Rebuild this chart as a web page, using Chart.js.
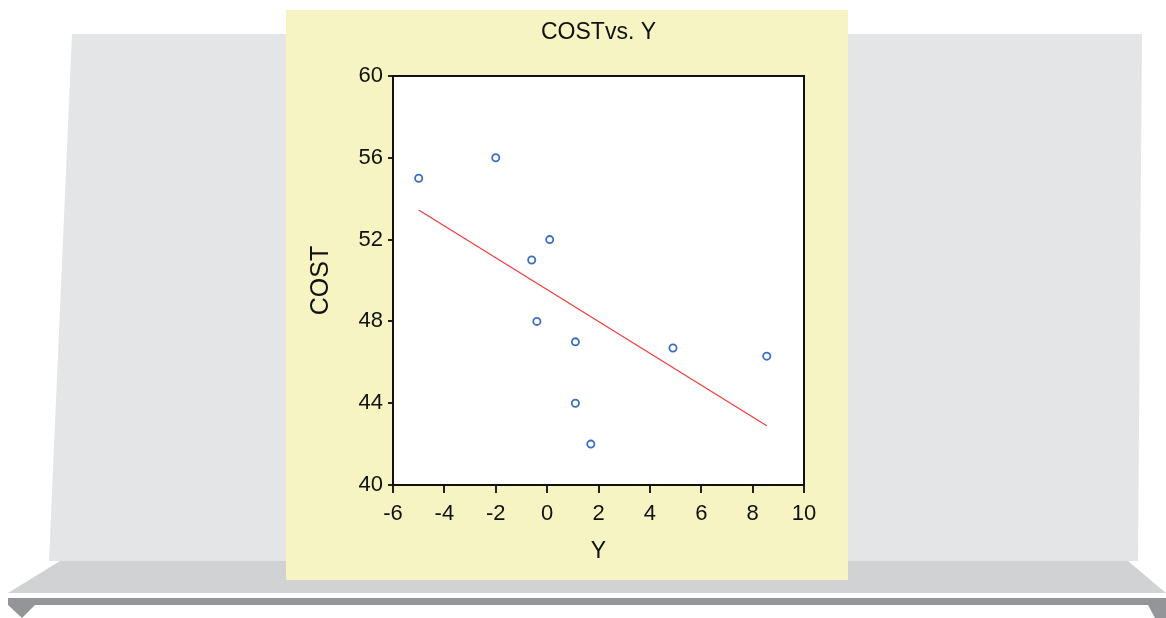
<!DOCTYPE html>
<html>
<head>
<meta charset="utf-8">
<script src="https://cdn.jsdelivr.net/npm/chart.js@4/dist/chart.umd.min.js"></script>
<style>
  html, body { margin: 0; padding: 0; background: #ffffff; }
  #stage { position: relative; width: 1166px; height: 618px; overflow: hidden; }
  #bg { position: absolute; left: 0; top: 0; }
  #panel { position: absolute; left: 286px; top: 10px; width: 562px; height: 570px; background: #f6f4c3; }
  #chart { position: absolute; left: 0; top: 0; }
</style>
</head>
<body>
<div id="stage">
  <svg id="bg" width="1166" height="618" viewBox="0 0 1166 618">
    <polygon points="60,561 1128,561 1166,593 8,593" fill="#d1d2d4"/>
    <polygon points="72,34 1142,34 1138,561 49,561" fill="#e4e5e7"/>
    <rect x="8" y="598" width="1158" height="7" fill="#939598"/>
    <polygon points="8,605 35,605 22,618" fill="#939598"/>
    <polygon points="1148,605 1166,605 1166,618 1155,618" fill="#939598"/>
  </svg>
  <div id="panel"><canvas id="chart" width="562" height="570"></canvas></div>
</div>
<script>
const TITLE = 'COSTvs. Y';
const X_TITLE = 'Y';
const Y_TITLE = 'COST';
const yValues = [-5, -2, 0.1, -0.6, -0.4, 1.1, 1.1, 1.7, 4.9, 8.55];
const costValues = [55, 56, 52, 51, 48, 47, 44, 42, 46.7, 46.3];
const fitX = [-5, 8.55];
const fitCost = [53.45, 42.9];
const xTicks = [-6, -4, -2, 0, 2, 4, 6, 8, 10];
const yTicks = [40, 44, 48, 52, 56, 60];

const FONT = "'Liberation Sans', Arial, sans-serif";

const scatterData = yValues.map((v, i) => ({ x: v, y: costValues[i] }));
const fitData = fitX.map((v, i) => ({ x: v, y: fitCost[i] }));

const framePlugin = {
  id: 'frame',
  beforeDraw(chart) {
    const a = chart.chartArea, c = chart.ctx;
    c.save();
    c.fillStyle = '#ffffff';
    c.fillRect(a.left, a.top, a.right - a.left, a.bottom - a.top);
    c.restore();
  },
  afterDatasetsDraw(chart) {
    const a = chart.chartArea, c = chart.ctx;
    c.save();
    c.strokeStyle = '#111111';
    c.lineWidth = 2;
    c.strokeRect(a.left, a.top, a.right - a.left, a.bottom - a.top);
    c.restore();
  },
  afterDraw(chart) {
    const a = chart.chartArea, c = chart.ctx;
    c.save();
    c.fillStyle = '#111111';
    c.font = '23px ' + FONT;
    c.textAlign = 'center';
    c.textBaseline = 'middle';
    c.fillText(TITLE, (a.left + a.right) / 2, 23);
    c.restore();
  }
};

new Chart(document.getElementById('chart'), {
  type: 'scatter',
  data: {
    datasets: [
      {
        data: fitData,
        showLine: true,
        borderColor: '#f23a3a',
        borderWidth: 1.2,
        pointRadius: 0,
        fill: false
      },
      {
        data: scatterData,
        showLine: false,
        pointStyle: 'circle',
        pointRadius: 3.6,
        pointBorderWidth: 1.8,
        pointBorderColor: '#3b6fc1',
        pointBackgroundColor: '#ffffff'
      }
    ]
  },
  options: {
    responsive: false,
    animation: false,
    devicePixelRatio: 1,
    layout: { padding: { left: 0, right: 44, top: 66, bottom: 0 } },
    plugins: { legend: { display: false }, tooltip: { enabled: false }, title: { display: false } },
    scales: {
      x: {
        type: 'linear',
        position: 'bottom',
        min: -6, max: 10,
        afterBuildTicks: s => { s.ticks = xTicks.map(v => ({ value: v })); },
        afterFit: s => { s.height = 95; },
        border: { display: false },
        grid: { drawOnChartArea: false, drawTicks: true, tickLength: 8, color: '#222222', lineWidth: 2 },
        ticks: { font: { size: 22, family: FONT }, color: '#111111', padding: 8, maxRotation: 0, autoSkip: false },
        title: { display: true, text: X_TITLE, font: { size: 23, family: FONT }, color: '#111111', padding: { top: 0, bottom: 15 } }
      },
      y: {
        type: 'linear',
        position: 'left',
        min: 40, max: 60,
        afterBuildTicks: s => { s.ticks = yTicks.map(v => ({ value: v })); },
        afterFit: s => { s.width = 107; },
        border: { display: false },
        grid: { drawOnChartArea: false, drawTicks: true, tickLength: 5, color: '#222222', lineWidth: 2 },
        ticks: { font: { size: 22, family: FONT }, color: '#111111', padding: 5, autoSkip: false },
        title: { display: true, text: Y_TITLE, font: { size: 25, family: FONT }, color: '#111111', padding: { top: 20, bottom: 0 } }
      }
    }
  },
  plugins: [framePlugin]
});
</script>
</body>
</html>
